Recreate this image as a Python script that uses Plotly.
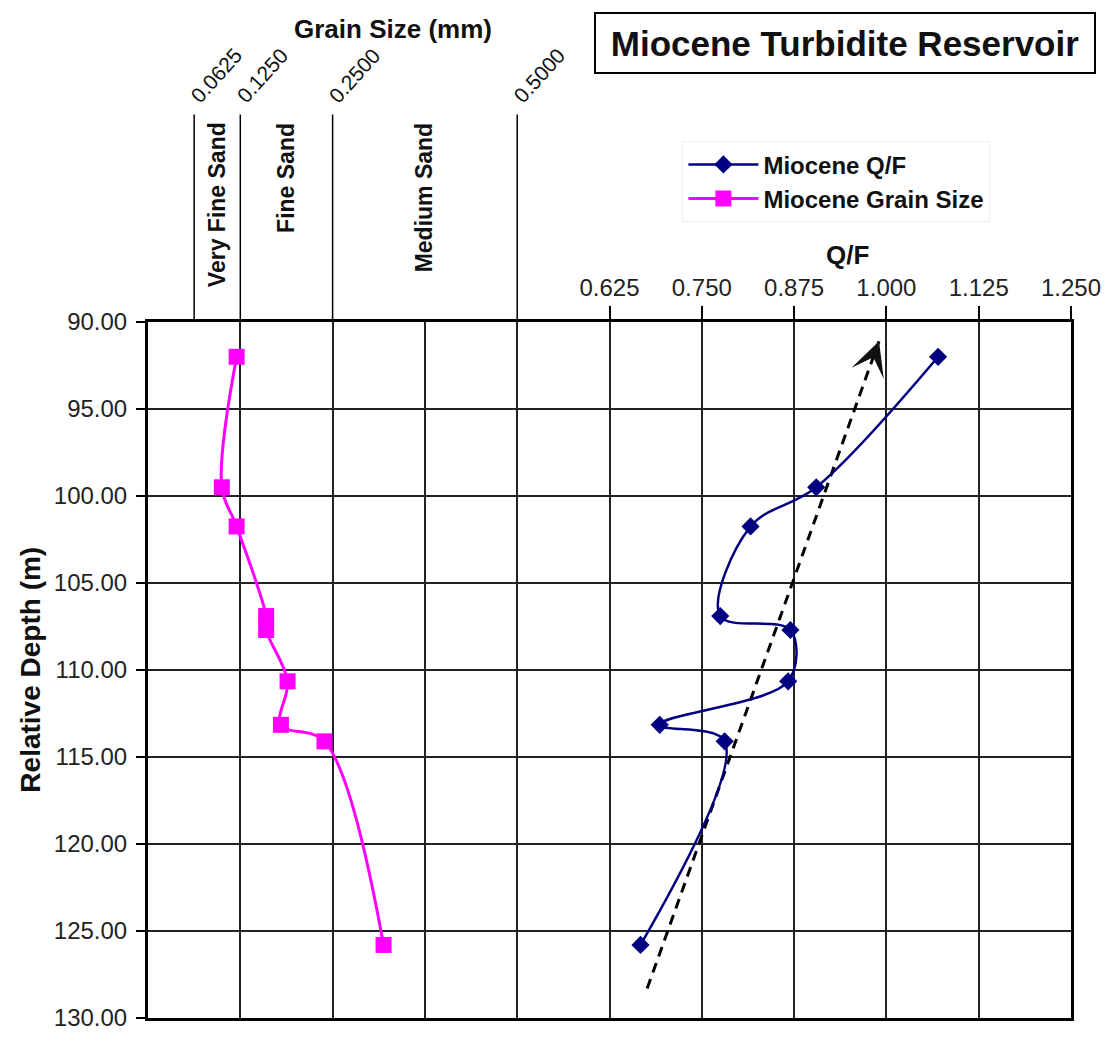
import plotly.graph_objects as go

# depth of each sample (m)
depth = [92.0, 99.5, 101.75, 106.9, 107.7, 110.65, 113.15, 114.1, 125.8]
qf_ratio = [1.070, 0.905, 0.816, 0.775, 0.870, 0.867, 0.693, 0.781, 0.667]
grain_size = [0.120, 0.100, 0.120, 0.160, 0.160, 0.189, 0.180, 0.239, 0.319]

# dashed trend arrow (bottom -> tip)
trend_qf = [0.676, 0.990]
trend_depth = [128.3, 91.1]

qf_ticks = [0.625, 0.750, 0.875, 1.000, 1.125, 1.250]
grain_ticks = [0.0625, 0.125, 0.25, 0.5]
sand_classes = ["Very Fine Sand", "Fine Sand", "Medium Sand"]

FONT = "Liberation Sans, Arial, sans-serif"
# page has an 8px body margin, so the figure is a bit smaller than the window
W, H = 1105, 1035
L, R, T, B = 140, 41, 314, 20
plot_w = W - L - R
plot_h = H - T - B


def px(pix):
  # page pixel column -> paper x
  return (pix - 148) / plot_w


def py(pix):
  # page pixel row -> paper y
  return (1023 - pix) / plot_h


def label(x, y, text, size, **kw):
  fig.add_annotation(x=x, y=y, xref="paper", yref="paper", text=text,
                     showarrow=False, xanchor=kw.pop("xanchor", "center"),
                     yanchor=kw.pop("yanchor", "middle"),
                     font=dict(family=FONT, size=size, color="#111"), **kw)


fig = go.Figure()

fig.add_trace(go.Scatter(
    x=qf_ratio, y=depth, xaxis="x2", name="<b>Miocene Q/F</b>",
    mode="lines+markers", line=dict(color="#000080", width=2.5, shape="spline"),
    marker=dict(symbol="diamond", size=14, color="#000080")))

fig.add_trace(go.Scatter(
    x=grain_size, y=depth, name="<b>Miocene Grain Size</b>",
    mode="lines+markers", line=dict(color="#ff00ff", width=3, shape="spline"),
    marker=dict(symbol="square", size=16, color="#ff00ff")))

fig.add_trace(go.Scatter(
    x=trend_qf, y=trend_depth, mode="lines", showlegend=False,
    line=dict(color="black", width=3, dash="10px,7px")))

# solid arrow head on the tip of the trend line
fig.add_annotation(x=trend_qf[1], y=trend_depth[1], xref="x", yref="y",
                   text="", showarrow=True, arrowhead=3, arrowsize=1.9,
                   arrowwidth=3, arrowcolor="#111", ax=-6, ay=17)

# grain size class lines above the plot
for g in grain_ticks:
  fig.add_shape(type="line", xref="x", yref="paper", x0=g, x1=g,
                y0=1, y1=py(113), line=dict(color="black", width=1.5))
  fig.add_annotation(x=g, y=py(108), xref="x", yref="paper",
                     text=f"{g:.4f}", textangle=-48, showarrow=False,
                     xanchor="left", yanchor="bottom", xshift=-11,
                     font=dict(family=FONT, size=21, color="#111"))

for i, name in enumerate(sand_classes):
  mid = (grain_ticks[i] + grain_ticks[i + 1]) / 2
  fig.add_annotation(x=mid, y=py(119), xref="x", yref="paper",
                     text=f"<b>{name}</b>", textangle=-90, showarrow=False,
                     xanchor="center", yanchor="top",
                     font=dict(family=FONT, size=23, color="#111"))

label(px(393), py(27), "<b>Grain Size (mm)</b>", 26)
label(px(846), py(41), "<b>Miocene Turbidite Reservoir</b>", 35,
      width=494, height=54, bordercolor="black", borderwidth=2,
      borderpad=2, bgcolor="white")
label(px(848), py(255), "<b>Q/F</b>", 26)
label(px(30), py(672), "<b>Relative Depth (m)</b>", 28, textangle=-90)

fig.update_layout(
    width=W, height=H,
    margin=dict(l=L, r=R, t=T, b=B),
    plot_bgcolor="white", paper_bgcolor="white",
    font=dict(family=FONT, color="#111"),
    xaxis=dict(range=[0, 1.25], dtick=0.125, tick0=0, showticklabels=False,
               showgrid=True, gridcolor="#222", gridwidth=2, zeroline=False,
               showline=True, linecolor="black", linewidth=3, mirror=True,
               ticks=""),
    xaxis2=dict(overlaying="x", matches="x", side="top", tickmode="array",
                tickvals=qf_ticks, ticktext=[f"{v:.3f}" for v in qf_ticks],
                ticks="outside", ticklen=15, tickwidth=2, tickcolor="black",
                showgrid=False, zeroline=False, showline=False,
                tickfont=dict(family=FONT, size=24, color="#222")),
    yaxis=dict(range=[130, 90], dtick=5, tick0=90, tickformat=".2f",
               showgrid=True, gridcolor="#222", gridwidth=2, zeroline=False,
               showline=True, linecolor="black", linewidth=3, mirror=True,
               ticks="outside", ticklen=9, tickwidth=2, tickcolor="black",
               ticklabelstandoff=4,
               tickfont=dict(family=FONT, size=24, color="#222")),
    legend=dict(x=px(683), y=py(140), xanchor="left", yanchor="top",
                bgcolor="white", bordercolor="#eeeeee", borderwidth=1,
                font=dict(family=FONT, size=24, color="#111"),
                itemwidth=70, tracegroupgap=0),
    showlegend=True,
)

fig.write_html("out.html")
